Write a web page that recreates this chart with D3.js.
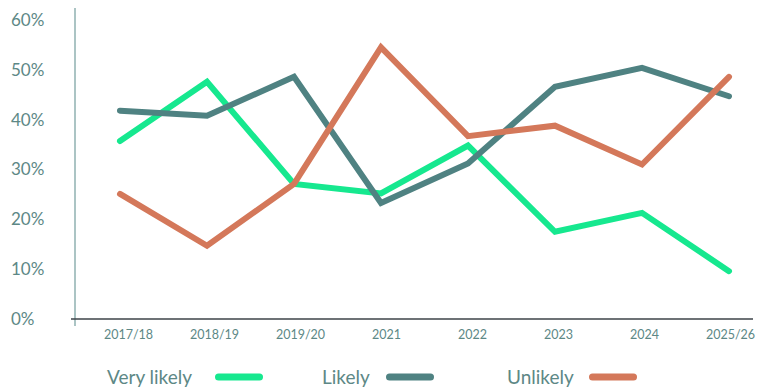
<!DOCTYPE html>
<html>
<head>
<meta charset="utf-8">
<script src="https://cdn.jsdelivr.net/npm/d3@7"></script>
<style>
  body { margin: 0; background: #fff; }
  svg text { font-family: Lato, "Open Sans", sans-serif; fill: #5d8886; }
</style>
</head>
<body>
<div id="chart"></div>
<script>
const years = ["2017/18", "2018/19", "2019/20", "2021", "2022", "2023", "2024", "2025/26"];
const veryLikely = [35.7, 47.6, 27.1, 25.2, 34.8, 17.5, 21.3, 9.6];
const likely = [41.8, 40.8, 48.6, 23.3, 31.2, 46.6, 50.4, 44.7];
const unlikely = [25.1, 14.7, 27.1, 54.5, 36.7, 38.8, 31.0, 48.6];
const yTicks = [0, 10, 20, 30, 40, 50, 60];

const seriesNames = ["Very likely", "Likely", "Unlikely"];
const seriesColors = ["#16e88f", "#4f8282", "#d4785a"];
const seriesData = [veryLikely, likely, unlikely];

const width = 757, height = 391;

const svg = d3.select("#chart")
    .append("svg")
    .attr("width", width)
    .attr("height", height);

const x = d3.scalePoint()
    .domain(years)
    .range([120, 729]);

// the category labels sit a little to the right of the points
const xLabel = d3.scalePoint()
    .domain(years)
    .range([128, 730]);

const y = d3.scaleLinear()
    .domain([0, 60])
    .range([319, 20]);

// y labels (no tick marks)
svg.selectAll(".ylabel")
    .data(yTicks)
    .enter().append("text")
    .attr("class", "ylabel")
    .attr("x", 11)
    .attr("y", d => y(d))
    .attr("dy", "0.35em")
    .attr("font-size", 17)
    .text(d => d + "%");

// y axis line
svg.append("line")
    .attr("x1", 75).attr("x2", 75)
    .attr("y1", 8).attr("y2", 326)
    .attr("stroke", "#8fb1b1")
    .attr("stroke-width", 1.5);

// x axis
const xAxis = svg.append("g")
    .attr("transform", `translate(0,${y(0)})`)
    .call(d3.axisBottom(xLabel).tickSize(0).tickPadding(11));
xAxis.select(".domain").remove();
xAxis.selectAll("text")
    .attr("font-size", 12.5)
    .attr("font-family", "Lato, 'Open Sans', sans-serif")
    .attr("fill", "#5d8886");

svg.append("line")
    .attr("x1", 71).attr("x2", 753)
    .attr("y1", y(0)).attr("y2", y(0))
    .attr("stroke", "#3d4348")
    .attr("stroke-width", 1.5);

const line = d3.line()
    .x((d, i) => x(years[i]))
    .y(d => y(d));

seriesData.forEach((vals, k) => {
    svg.append("path")
        .datum(vals)
        .attr("fill", "none")
        .attr("stroke", seriesColors[k])
        .attr("stroke-width", 6)
        .attr("stroke-linecap", "round")
        .attr("stroke-linejoin", "miter")
        .attr("d", line);
});

// legend
const legendX = [107, 322, 507];
const swatchX = [215, 386, 589];
const legend = svg.selectAll(".legend")
    .data(seriesNames)
    .enter().append("g")
    .attr("class", "legend");

legend.append("text")
    .attr("x", (d, i) => legendX[i])
    .attr("y", 377)
    .attr("dy", "0.35em")
    .attr("font-size", 19)
    .text(d => d);

legend.append("line")
    .attr("x1", (d, i) => swatchX[i] + 3.5)
    .attr("x2", (d, i) => swatchX[i] + 44.5)
    .attr("y1", 377).attr("y2", 377)
    .attr("stroke", (d, i) => seriesColors[i])
    .attr("stroke-width", 7)
    .attr("stroke-linecap", "round");
</script>
</body>
</html>
